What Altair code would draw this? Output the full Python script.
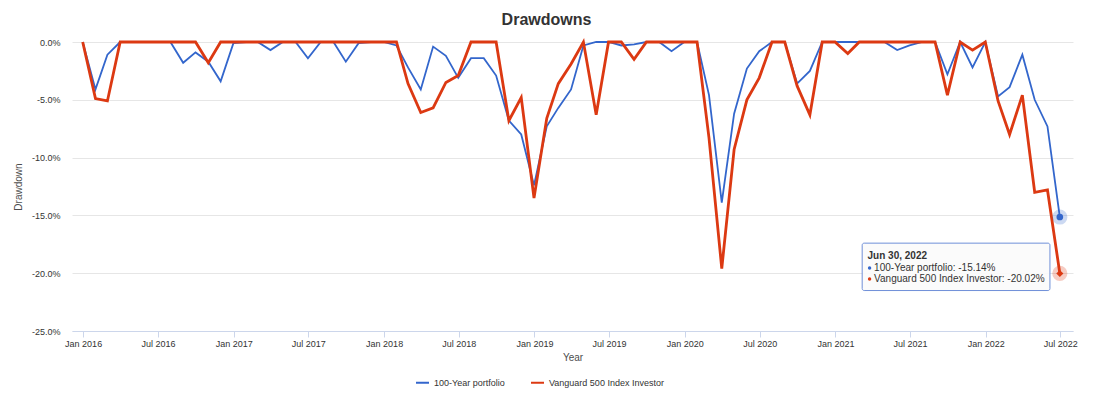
import calendar
import altair as alt
import pandas as pd

FONT = "Liberation Sans"
SERIES = ["100-Year portfolio", "Vanguard 500 Index Investor"]
COLORS = ["#3366cc", "#dc3912"]

# month-end dates, Dec 2015 .. Jun 2022
months = []
for yr in range(2015, 2023):
    for mo in range(1, 13):
        if (yr == 2015 and mo < 12) or (yr == 2022 and mo > 6):
            continue
        months.append(f"{yr}-{mo:02d}-{calendar.monthrange(yr, mo)[1]:02d}")

# drawdown values, percent
p100 = [0, -4.1, -1.1, 0, 0, 0, 0, 0, -1.8, -0.9,
        -1.7, -3.4, -0.1, 0, 0, -0.7, 0, 0, -1.4, 0,
        0, -1.7, -0.1, 0, 0, -0.3, -2.2, -4.1, -0.4, -1.2,
        -3.1, -1.4, -1.4, -2.9, -6.8, -8.0, -12.4, -7.3, -5.7, -4.1,
        -0.3, 0, 0, -0.3, -0.2, 0, 0, -0.8, 0, 0,
        -4.6, -13.9, -6.2, -2.3, -0.8, 0, 0, -3.6, -2.5, 0,
        0, 0, 0, 0, 0, -0.7, -0.3, 0, 0, -2.8,
        0, -2.2, 0, -4.7, -3.9, -1.1, -5.0, -7.3, -15.14]
vfinx = [0, -4.9, -5.1, 0, 0, 0, 0, 0, 0, 0,
         -1.8, 0, 0, 0, 0, 0, 0, 0, 0, 0,
         0, 0, 0, 0, 0, 0, -3.6, -6.1, -5.7, -3.5,
         -2.9, 0, 0, 0, -6.8, -4.8, -13.5, -6.6, -3.6, -1.9,
         0, -6.3, 0, 0, -1.5, 0, 0, 0, 0, 0,
         -8.3, -19.6, -9.3, -5.0, -3.1, 0, 0, -3.8, -6.3, 0,
         0, -1.0, 0, 0, 0, 0, 0, 0, 0, -4.6,
         0, -0.7, 0, -5.1, -8.0, -4.6, -13.0, -12.8, -20.02]

y_ticks = [0, -5, -10, -15, -20, -25]
x_ticks = [(yr, mo) for yr in range(2016, 2023) for mo in (1, 7)]

# tooltip annotation (data coordinates)
tip_date_label = "Jun 30, 2022"
tip_x0, tip_x1 = "2021-03-07", "2022-06-06"
tip_y0, tip_y1 = -17.4, -21.5
tip_text_x = "2021-03-20"
tip_bullet_x = "2021-03-25"
tip_line_x = "2021-04-05"
tip_rows_y = [-18.5, -19.55, -20.5]

df_a = pd.DataFrame({"date": months, "value": p100, "series": SERIES[0]})
df_b = pd.DataFrame({"date": months, "value": vfinx, "series": SERIES[1]})
df = pd.concat([df_a, df_b], ignore_index=True)

xscale = alt.Scale(type="utc", domain=[alt.DateTime(year=2015, month=12, date=5, utc=True),
                                       alt.DateTime(year=2022, month=8, date=1, utc=True)])
yscale = alt.Scale(domain=[-25, 0], nice=False, zero=False)
cscale = alt.Scale(domain=SERIES, range=COLORS)

xaxis = alt.Axis(
    values=[alt.DateTime(year=yr, month=mo, date=1, utc=True) for yr, mo in x_ticks],
    labelExpr="utcFormat(datum.value, '%b %Y')", title="Year", grid=False,
    domainColor="#ccd6eb", tickColor="#ccd6eb", tickSize=6,
    labelFontSize=9, labelColor="#333333", labelPadding=2,
    titleFontSize=10, titleFontWeight="normal", titleColor="#4d4d4d", titlePadding=4,
)
yaxis = alt.Axis(
    values=y_ticks,
    labelExpr="replace(format(datum.value, '.1f'), '\u2212', '-') + '%'",
    title="Drawdown", domain=False, ticks=False, grid=True, gridColor="#e6e6e6",
    labelFontSize=9, labelColor="#333333", labelPadding=12,
    titleFontSize=10, titleFontWeight="normal", titleColor="#4d4d4d", titlePadding=8,
)

nolegend = alt.Color("series:N", scale=cscale, legend=None)

# legend carrier (invisible line, legend symbols forced visible)
legend_layer = alt.Chart(df).mark_line(strokeWidth=2, opacity=0).encode(
    x=alt.X("date:T", scale=xscale, axis=xaxis),
    y=alt.Y("value:Q", scale=yscale, axis=yaxis),
    color=alt.Color(
        "series:N", scale=cscale,
        legend=alt.Legend(
            title=None, orient="none", legendX=343, legendY=333, direction="horizontal",
            symbolType="stroke", symbolSize=169, symbolStrokeWidth=2, symbolOpacity=1,
            labelFontSize=9, labelColor="#333333", labelFont=FONT, labelOffset=4,
            columnPadding=22,
        ),
    ),
)
line_a = alt.Chart(df_a).mark_line(strokeWidth=1.8).encode(
    x=alt.X("date:T", scale=xscale), y=alt.Y("value:Q", scale=yscale), color=nolegend)
line_b = alt.Chart(df_b).mark_line(strokeWidth=2.8).encode(
    x=alt.X("date:T", scale=xscale), y=alt.Y("value:Q", scale=yscale), color=nolegend)

last = pd.DataFrame({
    "date": [months[-1], months[-1]],
    "value": [p100[-1], vfinx[-1]],
    "series": SERIES,
})
halo = alt.Chart(last).mark_circle(size=230, opacity=0.25).encode(
    x="date:T", y="value:Q", color=nolegend)
dot_a = alt.Chart(last.iloc[[0]]).mark_point(shape="circle", filled=True, size=45, opacity=1).encode(
    x="date:T", y="value:Q", color=nolegend)
dot_b = alt.Chart(last.iloc[[1]]).mark_point(shape="diamond", filled=True, size=50, opacity=1).encode(
    x="date:T", y="value:Q", color=nolegend)

box = alt.Chart(pd.DataFrame({"x0": [tip_x0], "x1": [tip_x1], "y0": [tip_y0], "y1": [tip_y1]})).mark_rect(
    fill="#fbfbfb", fillOpacity=0.92, stroke="#6f8fd8", strokeWidth=1, cornerRadius=2
).encode(x="x0:T", x2="x1:T", y="y0:Q", y2="y1:Q")

tip_rows = pd.DataFrame({
    "date": [tip_line_x, tip_line_x],
    "value": tip_rows_y[1:],
    "label": [f"{SERIES[0]}: {p100[-1]:.2f}%", f"{SERIES[1]}: {vfinx[-1]:.2f}%"],
    "series": SERIES,
})
tip_head = alt.Chart(pd.DataFrame({"date": [tip_text_x], "value": [tip_rows_y[0]], "label": [tip_date_label]})).mark_text(
    align="left", baseline="middle", font=FONT, fontSize=10, fontWeight="bold", color="#333333"
).encode(x="date:T", y="value:Q", text="label:N")
tip_text = alt.Chart(tip_rows).mark_text(
    align="left", baseline="middle", font=FONT, fontSize=10, color="#333333"
).encode(x="date:T", y="value:Q", text="label:N")
tip_bullets = alt.Chart(tip_rows.assign(date=tip_bullet_x)).mark_circle(size=12, opacity=1).encode(
    x="date:T", y="value:Q", color=nolegend)

chart = alt.layer(
    legend_layer, line_a, line_b, halo, dot_a, dot_b, box, tip_head, tip_text, tip_bullets
).properties(
    width=1001, height=289,
    autosize=alt.AutoSizeParams(type="none"),
    padding={"left": 64, "top": 34, "right": 12, "bottom": 62},
    title=alt.TitleParams("Drawdowns", font=FONT, fontSize=16, fontWeight="bold", color="#333333",
                          anchor="middle", dx=-26, offset=8),
).configure_view(stroke=None).configure_axis(
    labelFont=FONT, titleFont=FONT
).configure_legend(labelFont=FONT)

chart.save("out.html", embed_options={"renderer": "svg", "actions": False})
